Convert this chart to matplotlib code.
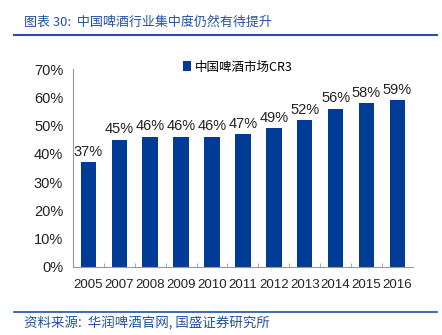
import matplotlib.pyplot as plt
from matplotlib.lines import Line2D
from matplotlib.ticker import FixedLocator, PercentFormatter

plt.rcParams['font.family'] = ['Noto Sans CJK SC', 'DejaVu Sans']

years = ['2005', '2007', '2008', '2009', '2010', '2011',
         '2012', '2013', '2014', '2015', '2016']
cr3 = [37, 45, 46, 46, 46, 47, 49, 52, 56, 58, 59]

bar_color = '#003C96'
text_blue = '#2152A3'
num_font = 'Liberation Sans'

fig = plt.figure(figsize=(4.42, 3.35), dpi=100)
ax = fig.add_axes([0.165, 0.203, 0.769, 0.591])

x = range(len(years))
bars = ax.bar(x, cr3, width=0.5, color=bar_color, label='中国啤酒市场CR3')

for b, v in zip(bars, cr3):
    ax.text(b.get_x() + b.get_width() / 2, v + 1.2, f'{v}%',
            ha='center', va='bottom', fontsize=10.5, family=num_font,
            color='#222222')

ax.set_xlim(-0.5, len(years) - 0.5)
ax.set_ylim(0, 70)
ax.set_yticks(range(0, 71, 10))
ax.yaxis.set_major_formatter(PercentFormatter(decimals=0))
ax.set_xticks(list(x))
ax.set_xticklabels(years)
ax.xaxis.set_minor_locator(FixedLocator([i + 0.5 for i in range(len(years) - 1)]))

ax.tick_params(axis='x', which='major', length=0, labelsize=9.5, pad=9)
ax.tick_params(axis='x', which='minor', direction='in', length=3, color='#999999')
ax.tick_params(axis='y', length=0, labelsize=10.5, pad=7)
for lbl in ax.get_xticklabels() + ax.get_yticklabels():
    lbl.set_family(num_font)
    lbl.set_color('#222222')

for s in ['top', 'right']:
    ax.spines[s].set_visible(False)
for s in ['left', 'bottom']:
    ax.spines[s].set_color('#999999')
    ax.spines[s].set_linewidth(0.8)

leg = ax.legend(loc='center', bbox_to_anchor=(0.485, 1.01), frameon=False,
                fontsize=9, handlelength=0.7, handleheight=0.9, handletextpad=0.3)
for t in leg.get_texts():
    t.set_family(['Noto Sans CJK SC', num_font])

# header and footer
fig.text(0.055, 0.934, '图表 30:  中国啤酒行业集中度仍然有待提升', color=text_blue,
         fontsize=9.4, style='italic', va='center')
fig.add_artist(Line2D([0.032, 0.988], [0.896, 0.896], color='#2152A3', lw=1.5))
fig.add_artist(Line2D([0.032, 0.988], [0.069, 0.069], color='#2152A3', lw=1.2))
fig.text(0.055, 0.036, '资料来源:  华润啤酒官网, 国盛证券研究所', color=text_blue,
         fontsize=9.7, style='italic', va='center')

fig.savefig('out.png', dpi=100)
